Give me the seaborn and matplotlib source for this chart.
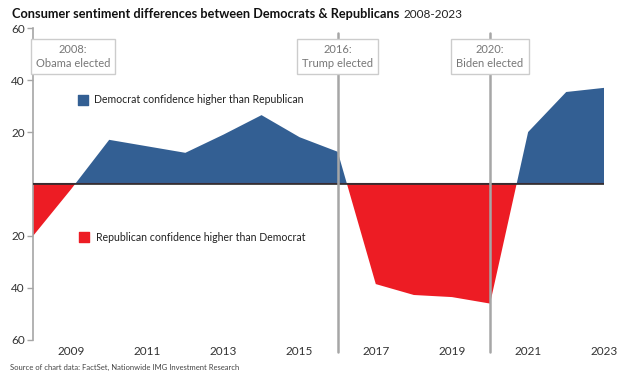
import numpy as np
import pandas as pd
import matplotlib
matplotlib.use("Agg")
import matplotlib.pyplot as plt
import seaborn as sns

years = [2008, 2009, 2010, 2011, 2012, 2013, 2014, 2015, 2016,
         2017, 2018, 2019, 2020, 2021, 2022, 2023]
diff = [-20, -2, 17, 14.5, 12, 19, 26.5, 18, 12.4,
        -38.5, -42.7, -43.5, -46, 20, 35.4, 37]
yticks = [60, 40, 20, -20, -40, -60]
xticks = [2009, 2011, 2013, 2015, 2017, 2019, 2021, 2023]
events = [(2016, "2016:\nTrump elected"), (2020, "2020:\nBiden elected")]

blue = "#335f93"
red = "#ed1c24"
grey = "#a6a6a6"

sns.set_style("white")
plt.rcParams['font.family'] = ['Lato', 'DejaVu Sans']

df = pd.DataFrame({"year": years, "diff": diff})

fig = plt.figure(figsize=(6.23, 3.74), dpi=100)
ax = fig.add_axes([0.053, 0.091, 0.917, 0.834])

sns.lineplot(data=df, x="year", y="diff", ax=ax, linewidth=0, color=blue)
x = np.array(years, dtype=float)
y = np.array(diff, dtype=float)
ax.fill_between(x, 0, y, where=y >= 0, interpolate=True, color=blue, linewidth=0)
ax.fill_between(x, 0, y, where=y <= 0, interpolate=True, color=red, linewidth=0)
ax.plot([2008, 2023], [0.5, 0.5], color="#7a3558", lw=0.8, zorder=3)
ax.plot([2008, 2023], [0, 0], color="#2b2b2b", lw=1.2, zorder=4)

ax.set_xlim(2008, 2023)
ax.set_ylim(-60, 60)
ax.set_yticks(yticks)
ax.set_yticklabels([str(abs(v)) for v in yticks])
ax.set_xticks(xticks)
ax.set_xticklabels([str(v) for v in xticks])
ax.set_xlabel("")
ax.set_ylabel("")
ax.tick_params(axis="y", length=4, width=1, color=grey, labelsize=8.5,
               labelcolor="#333333", pad=2, left=True)
ax.tick_params(axis="x", length=0, labelsize=8.5, labelcolor="#333333", pad=4)
sns.despine(ax=ax, top=True, right=True, bottom=True)
ax.spines["left"].set_color(grey)
ax.spines["left"].set_linewidth(1.2)

for yr, label in events:
    ax.axvline(yr, ymin=-0.04, ymax=0.985, color=grey, lw=1.8, clip_on=False, zorder=5)
    ax.text(yr, 49, label, ha="center", va="center", fontsize=8, color="#777777",
            linespacing=1.3, zorder=6,
            bbox=dict(boxstyle="square,pad=0.45", fc="white", ec="#cccccc", lw=1))
ax.text(2009.05, 49, "2008:\nObama elected", ha="center", va="center", fontsize=8,
        color="#777777", linespacing=1.3, zorder=6,
        bbox=dict(boxstyle="square,pad=0.45", fc="white", ec="#cccccc", lw=1))

# legend-like labels inside the plot
ax.scatter([2009.3], [32.5], marker="s", s=55, color=blue, clip_on=False)
ax.text(2009.6, 32.5, "Democrat confidence higher than Republican", va="center",
        fontsize=7.6, color="#222222")
ax.scatter([2009.35], [-20.5], marker="s", s=55, color=red, clip_on=False)
ax.text(2009.65, -20.5, "Republican confidence higher than Democrat", va="center",
        fontsize=7.6, color="#222222")

title = fig.text(0.02, 0.962, "Consumer sentiment differences between Democrats & Republicans",
                 fontsize=9.2, fontweight="bold", va="center", color="#111111")
fig.canvas.draw()
bb = title.get_window_extent().transformed(fig.transFigure.inverted())
fig.text(bb.x1 + 0.006, 0.960, "2008-2023", fontsize=8.5, va="center", color="#222222")
fig.text(0.016, 0.012, "Source of chart data: FactSet, Nationwide IMG Investment Research",
         fontsize=5.5, color="#444444")

fig.savefig("out.png", dpi=100)
